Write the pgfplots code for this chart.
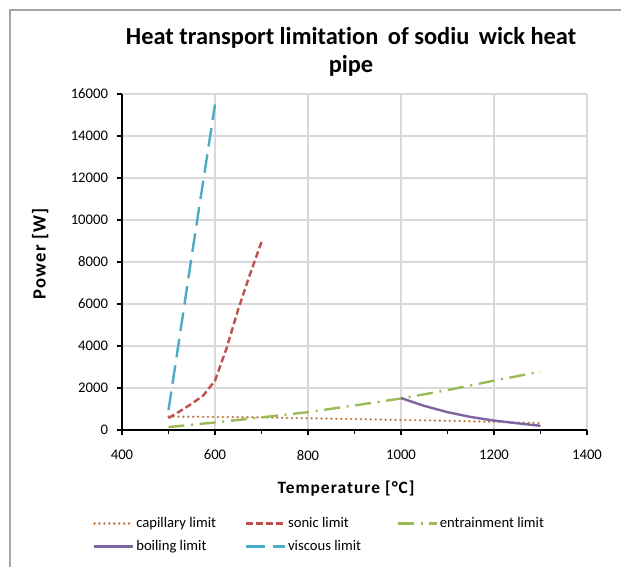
\documentclass[border=0pt]{standalone}
\usepackage{fontspec}
\setmainfont{Carlito}[Ligatures=NoCommon]
\usepackage{pgfplots}
\pgfplotsset{compat=1.18}

\definecolor{capc}{HTML}{BF7A45}
\definecolor{sonc}{HTML}{C0504D}
\definecolor{entc}{HTML}{9BBB59}
\definecolor{boic}{HTML}{8064A2}
\definecolor{visc}{HTML}{4BACC6}

\begin{document}
\begin{tikzpicture}
% frame and title, in pixels of the reference (y downwards)
\begin{scope}[x=0.75pt,y=-0.75pt]
\useasboundingbox (0,0) rectangle (621,567);
\draw[color=black!35, line width=1pt] (10,567) -- (10,10) -- (621,10);
\node[align=center, font=\bfseries\fontsize{18.3}{21}\selectfont] at (351,52)
  {Heat transport limitation\, of sodiu\, wick heat\\pipe};
\end{scope}

\begin{axis}[
    at={(91.5pt,-322.5pt)}, anchor=south west,
    scale only axis,
    width=348.75pt, height=252pt,
    xmin=400, xmax=1400, ymin=0, ymax=16000,
    xtick={400,600,...,1400},
    minor xtick={500,700,...,1300},
    ytick={0,2000,...,16000},
    scaled y ticks=false,
    grid=major,
    major grid style={color=black!15, line width=0.8pt},
    axis x line*=bottom, axis y line*=left,
    axis line style={black, line width=1.2pt, -},
    tick align=outside,
    major tick length=4pt, minor tick length=3pt,
    tick style={black, line width=0.9pt},
    /pgf/number format/assume math mode=true,
    /pgf/number format/1000 sep={},
    ticklabel style={font=\fontsize{11}{13}\selectfont},
    yticklabel style={xshift=-3pt},
    xticklabel style={yshift=-7.5pt},
    every axis x label/.style={at={(0.482,-0.173)}, anchor=center,
      font=\bfseries\fontsize{13}{15}\selectfont\addfontfeatures{LetterSpace=6}},
    every axis y label/.style={at={(-0.176,0.524)}, rotate=90, anchor=center,
      font=\bfseries\fontsize{14}{16}\selectfont\addfontfeatures{LetterSpace=6}},
    xlabel={Temperature [°C]},
    ylabel={Power [W]},
    legend columns=3,
    legend style={draw=none, fill=none, at={(-0.071,-0.244)}, anchor=north west,
      font=\fontsize{11}{13}\selectfont, row sep=4pt,
      nodes={inner xsep=1.5pt},
      /tikz/every even column/.append style={column sep=0pt}},
    legend image code/.code={\draw[#1] (0pt,0pt) -- (29pt,0pt);},
    every axis plot/.append style={line width=1.8pt, line join=round},
]
\addplot[capc, line cap=round, dash pattern=on 0.1pt off 3.6pt] coordinates {
  (500,640) (600,625) (700,600) (800,560) (900,520) (1000,480) (1100,440) (1200,390) (1300,330)};
\addlegendentry{\makebox[80pt][l]{capillary limit}}
\addplot[sonc, dash pattern=on 5pt off 2.5pt] coordinates {
  (500,570) (525,900) (550,1250) (575,1650) (600,2350) (625,3900) (650,5750) (675,7400) (700,8950)};
\addlegendentry{\makebox[80pt][l]{sonic limit}}
\addplot[entc, dash pattern=on 12pt off 5pt on 1.5pt off 5pt] coordinates {
  (500,140) (600,360) (700,600) (800,850) (900,1170) (1000,1500) (1100,1900) (1200,2350) (1300,2780)};
\addlegendentry{entrainment limit}
\addplot[boic] coordinates {
  (1000,1520) (1050,1150) (1100,850) (1150,620) (1200,450) (1250,320) (1300,200)};
\addlegendentry{\makebox[80pt][l]{boiling limit}}
\addplot[visc, dash pattern=on 14pt off 6pt] coordinates {
  (500,950) (525,4600) (550,8300) (575,11900) (600,15500)};
\addlegendentry{\makebox[80pt][l]{viscous limit}}
\end{axis}
\end{tikzpicture}
\end{document}
